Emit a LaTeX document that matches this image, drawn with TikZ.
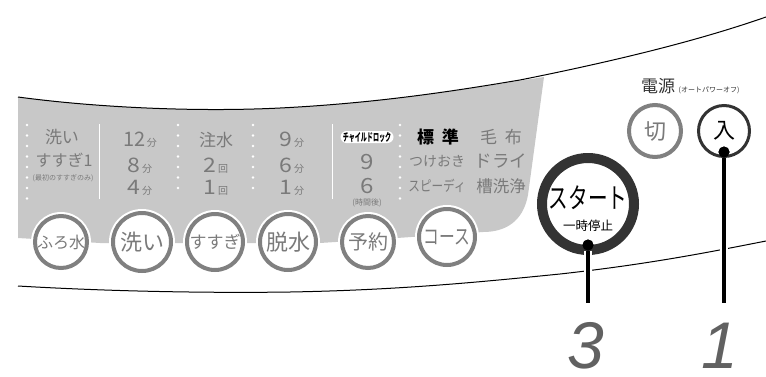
\documentclass[tikz,border=0pt]{standalone}
\usepackage{fontspec}
\setmainfont{Noto Sans CJK JP}
\newfontfamily\latinfont{Liberation Sans}
\newcommand{\fsize}[1]{\fontsize{#1}{#1}\selectfont}
\newcommand{\wdig}[1]{\fsize{20}\scalebox{1.15}[1]{#1}\fsize{10}\,}
\definecolor{panelgray}{HTML}{C8C8C8}
\definecolor{btngray}{HTML}{808080}
\definecolor{txtgray}{HTML}{7A7A7A}
\definecolor{darkring}{HTML}{333333}
\tikzset{
  btn/.style={circle,draw=btngray,fill=white,line width=4pt,inner sep=0pt,text=txtgray},
  halo/.style={circle,fill=white,inner sep=0pt},
  lbl/.style={inner sep=0pt,text=txtgray},
  pin/.style={circle,fill=black,minimum size=11pt,inner sep=0pt},
  stem/.style={line width=3.4pt,black,preaction={draw=white,line width=8pt}},
  dots/.style={white,line width=2.6pt,line cap=round,dash pattern=on 0pt off 10.5pt}
}
\begin{document}
\begin{tikzpicture}[x=1pt,y=-1pt]
\useasboundingbox (0,0) rectangle (766,376);

%Gray panel
\fill[panelgray] (18,97) .. controls (100,108) and (200,112) .. (280,108) .. controls (380,103) and (460,90) .. (544,77) -- (528,195) .. controls (523,222) and (505,232) .. (483,232) -- (397,238) -- (320,243) -- (100,243) -- (18,238) -- cycle;

%Body lines
\draw[line width=1pt] (18,97) .. controls (100,108) and (200,112) .. (280,108) .. controls (380,103) and (460,90) .. (520,80) .. controls (620,60) and (700,40) .. (766,17);
\draw[line width=1pt] (18,286) .. controls (120,292) and (220,293) .. (290,292) .. controls (400,290) and (480,282) .. (560,274) .. controls (650,264) and (710,252) .. (766,241);

%Dots and dividers
\draw[dots] (27,125) -- (27,200);
\draw[dots] (178,125) -- (178,190);
\draw[dots] (253,125) -- (253,190);
\draw[dots] (400,125) -- (400,200);
\draw[white,line width=1pt] (99,124) -- (99,199);
\draw[white,line width=1pt] (332,124) -- (332,199);

%Column of the wash
\node[lbl] (washa) at (62,137){\fsize{17}洗い};
\node[lbl] (washb) at (64,160){\fsize{16}すすぎ1};
\node[lbl] (washc) at (63,178){\fsize{7}(最初のすすぎのみ)};

%Column of the minutes
\node[lbl] (wtwelve) at (140,140){\fsize{20}12\fsize{10}\,分};
\node[lbl] (weight) at (140,166){\wdig{8}分};
\node[lbl] (wfour) at (140,188){\wdig{4}分};
\node[lbl] (watera) at (216,140){\fsize{17}注水};
\node[lbl] (waterb) at (216,166){\wdig{2}回};
\node[lbl] (waterc) at (216,188){\wdig{1}回};
\node[lbl] (spina) at (292,140){\wdig{9}分};
\node[lbl] (spinb) at (292,166){\wdig{6}分};
\node[lbl] (spinc) at (292,188){\wdig{1}分};

%Column of the timer
\node[fill=white,rounded corners=6pt,minimum width=53pt,minimum height=12pt,inner sep=0pt,text=black] (lock) at (367,137){\scalebox{.55}[1]{\fsize{11}\bfseries チャイルドロック}};
\node[lbl] (timea) at (367,162){\fsize{21}\scalebox{1.15}[1]{9}};
\node[lbl] (timeb) at (367,186){\fsize{21}\scalebox{1.15}[1]{6}};
\node[lbl] (timec) at (367,203){\fsize{8}(時間後)};

%Column of the courses
\node[inner sep=0pt,text=black] (coursea) at (438,137){\fsize{17}\bfseries 標\hspace{8pt}準};
\node[lbl] (courseb) at (501,137){\fsize{17}毛\hspace{8pt}布};
\node[lbl] (coursec) at (437,161){\fsize{14}つけおき};
\node[lbl] (coursed) at (501,161){\fsize{17.5}ドライ};
\node[lbl] (coursee) at (437,186){\scalebox{.8}[1]{\fsize{14.5}スピーディ}};
\node[lbl] (coursef) at (501,186){\fsize{16.5}槽洗浄};

%Buttons of the panel
\node[halo,minimum size=60pt] at (61,242){};
\node[halo,minimum size=66pt] at (142,242){};
\node[halo,minimum size=64pt] at (215,242){};
\node[halo,minimum size=64pt] at (288,242){};
\node[halo,minimum size=60pt] at (368,242){};
\node[halo,minimum size=64pt] at (447,237){};
\node[btn,minimum size=52pt] (bath) at (61,242){\fsize{16}ふろ水};
\node[btn,minimum size=58pt] (wash) at (142,242){\fsize{22}洗い};
\node[btn,minimum size=56pt] (rinse) at (215,242){\fsize{17}すすぎ};
\node[btn,minimum size=56pt] (spin) at (288,242){\fsize{22}脱水};
\node[btn,minimum size=52pt] (timer) at (368,242){\fsize{20}予約};
\node[btn,minimum size=56pt] (course) at (447,237){\scalebox{.75}[1]{\fsize{21}コース}};

%Power
\node[inner sep=0pt,text=darkring] (power) at (658,86){\fsize{17}電源};
\node[inner sep=0pt,text=darkring] (auto) at (709,90){\fsize{7}(オートパワーオフ)};
\node[btn,minimum size=52pt] (off) at (655,131){\fsize{22}切};
\node[btn,draw=darkring,line width=3pt,minimum size=51pt,text=black] (on) at (724,131){\fsize{22}入};

%Start
\node[circle,draw=darkring,fill=white,line width=10pt,minimum size=92pt,inner sep=0pt] (start) at (588,204){};
\node[inner sep=0pt,text=black] (starta) at (588,198){\scalebox{.7}[1]{\fsize{28}スタート}};
\node[inner sep=0pt,text=black] (startb) at (588,226){\fsize{12.5}一時停止};

%Pointers
\node[pin] (ondot) at (724,152){};
\node[pin] (startdot) at (588,245){};
\coordinate (onend) at (724,303);
\coordinate (startend) at (588,303);
\draw[stem] (ondot) -- (onend);
\draw[stem] (startdot) -- (startend);
\node[pin] at (724,152){};
\node[pin] at (588,245){};

%Step numbers
\node[inner sep=0pt,text=black!62] (three) at (586,346){\latinfont\itshape\fsize{66}3};
\node[inner sep=0pt,text=black!62] (one) at (720,346){\latinfont\itshape\fsize{66}1};

\end{tikzpicture}
\end{document}
